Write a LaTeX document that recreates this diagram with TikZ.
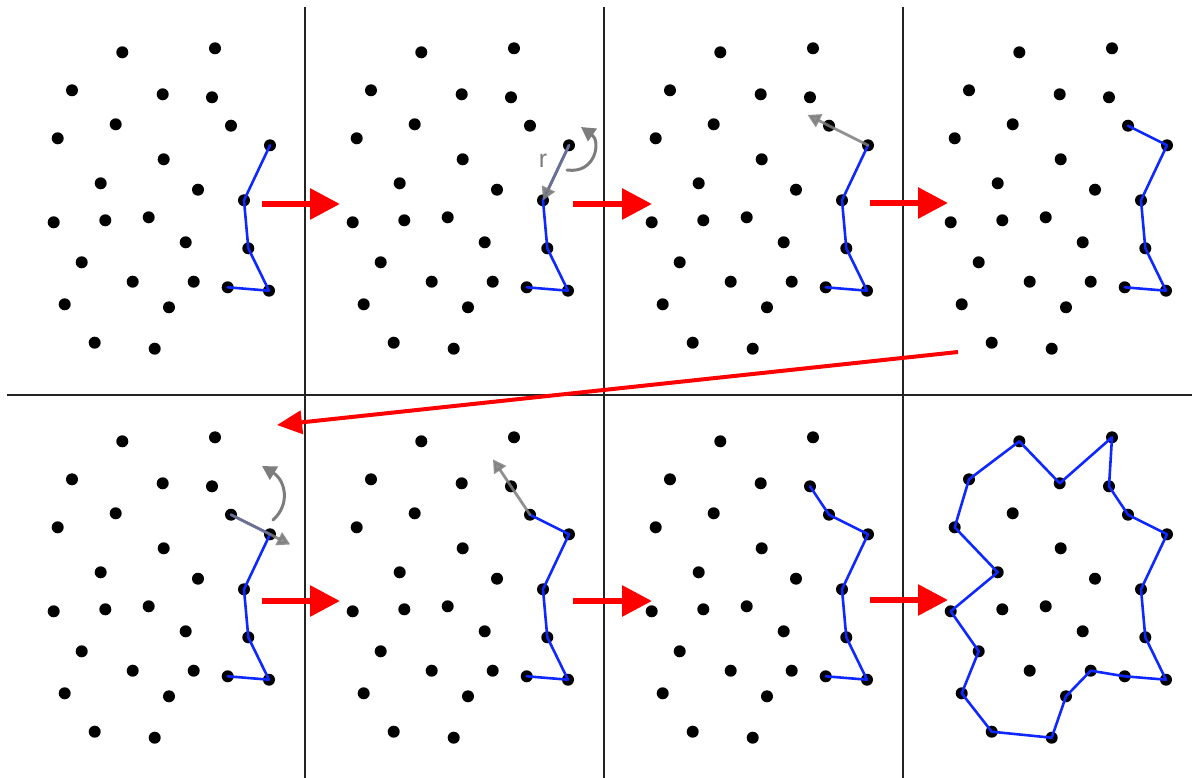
\documentclass[tikz,border=0pt]{standalone}
\usepackage{fontspec}
\newfontfamily\labelfont{Liberation Sans}
\usetikzlibrary{arrows.meta,calc}
\definecolor{chainblue}{RGB}{15,40,255}
\definecolor{probegray}{RGB}{125,125,125}
\definecolor{gridgray}{RGB}{35,35,35}

\begin{document}
\begin{tikzpicture}[x=1pt, y=-1pt, line join=round, line cap=round,
	chain/.style={chainblue, line width=2.6},
	probe/.style={probegray, opacity=0.85, line width=2.8, -{Triangle[length=13pt,width=14pt]}},
	turn/.style={probegray, line width=3, -{Triangle[length=14pt,width=15pt]}},
	nextarrow/.style={red, line width=6, line cap=butt, -{Triangle[length=30pt,width=30pt]}},
	wraparrow/.style={red, line width=4, line cap=butt, -{Triangle[length=25pt,width=23pt]}},
	gridline/.style={gridgray, line width=1.2, line cap=butt}]
	\useasboundingbox (0,0) rectangle (1192,778);
	\def\pts{122.3/52.3, 215/48.3, 72/90.3, 162.7/94.3, 212/97.3, 115.7/124.3, 231/125.7, 57.7/138.3, 270/145.3, 163.7/159.3, 100.7/183.3, 198/189.7, 244/200.3, 53.7/222.3, 105.3/220.3, 148.7/217.3, 185.7/242.3, 248.3/248.3, 81.7/262.3, 132.7/281.7, 193.7/281.7, 227.7/287.3, 269/290.7, 64.7/304.3, 169/307.3, 94.7/342.7, 154.7/348.7}
	% panel grid
	\foreach \gx in {305,604,903}
		\draw[gridline] (\gx,7) -- (\gx,778);
	\draw[gridline] (7,395) -- (1192,395);
	% the same point set in every panel
	\foreach \p/\ox/\oy in {a/0/0, b/299/0, c/598/0, d/897/0, e/0/389, f/299/389, g/598/389, h/897/389}{
		\foreach \x/\y [count=\i] in \pts{
			\coordinate (\p\i) at (\x+\ox,\y+\oy);
			\fill (\p\i) circle (6);}}
	% hull being built
	\foreach \p in {a,b,c}
		\draw[chain] (\p22) -- (\p23) -- (\p18) -- (\p13) -- (\p9);
	\foreach \p in {d,e,f}
		\draw[chain] (\p22) -- (\p23) -- (\p18) -- (\p13) -- (\p9) -- (\p7);
	\draw[chain] (g22) -- (g23) -- (g18) -- (g13) -- (g9) -- (g7) -- (g5);
	\draw[chain] (h9) -- (h7) -- (h5) -- (h2) -- (h4) -- (h1) -- (h3) -- (h8) -- (h11) -- (h14) -- (h19) -- (h24) -- (h26) -- (h27) -- (h25) -- (h21) -- (h22) -- (h23) -- (h18) -- (h13) -- cycle;
	% rotating probe
	\draw[probe] (b9) -- (b13);
	\node[probegray, font=\labelfont\fontsize{25}{25}\selectfont] (rlabel) at (543,161) {r};
	\draw[turn] (567,170) .. controls (596,174) and (601,141) .. (581,127);
	\draw[probe] (c9) -- ($(c9)!1.55!(c7)$);
	\draw[probe] (e7) -- ($(e7)!1.52!(e9)$);
	\draw[turn] (273,520) .. controls (291,504) and (285,480) .. (262,466);
	\draw[probe] (f7) -- ($(f7)!1.95!(f5)$);
	% steps
	\foreach \sx/\tx/\sy [count=\k] in {262/340/204, 573/652/204, 870/948/203, 262/340/601, 573/652/601, 870/948/600}{
		\coordinate (from\k) at (\sx,\sy);
		\coordinate (to\k) at (\tx,\sy);
		\draw[nextarrow] (from\k) -- (to\k);}
	\coordinate (wrapfrom) at (958,352);
	\coordinate (wrapto) at (277,425);
	\draw[wraparrow] (wrapfrom) -- (wrapto);
\end{tikzpicture}
\end{document}
